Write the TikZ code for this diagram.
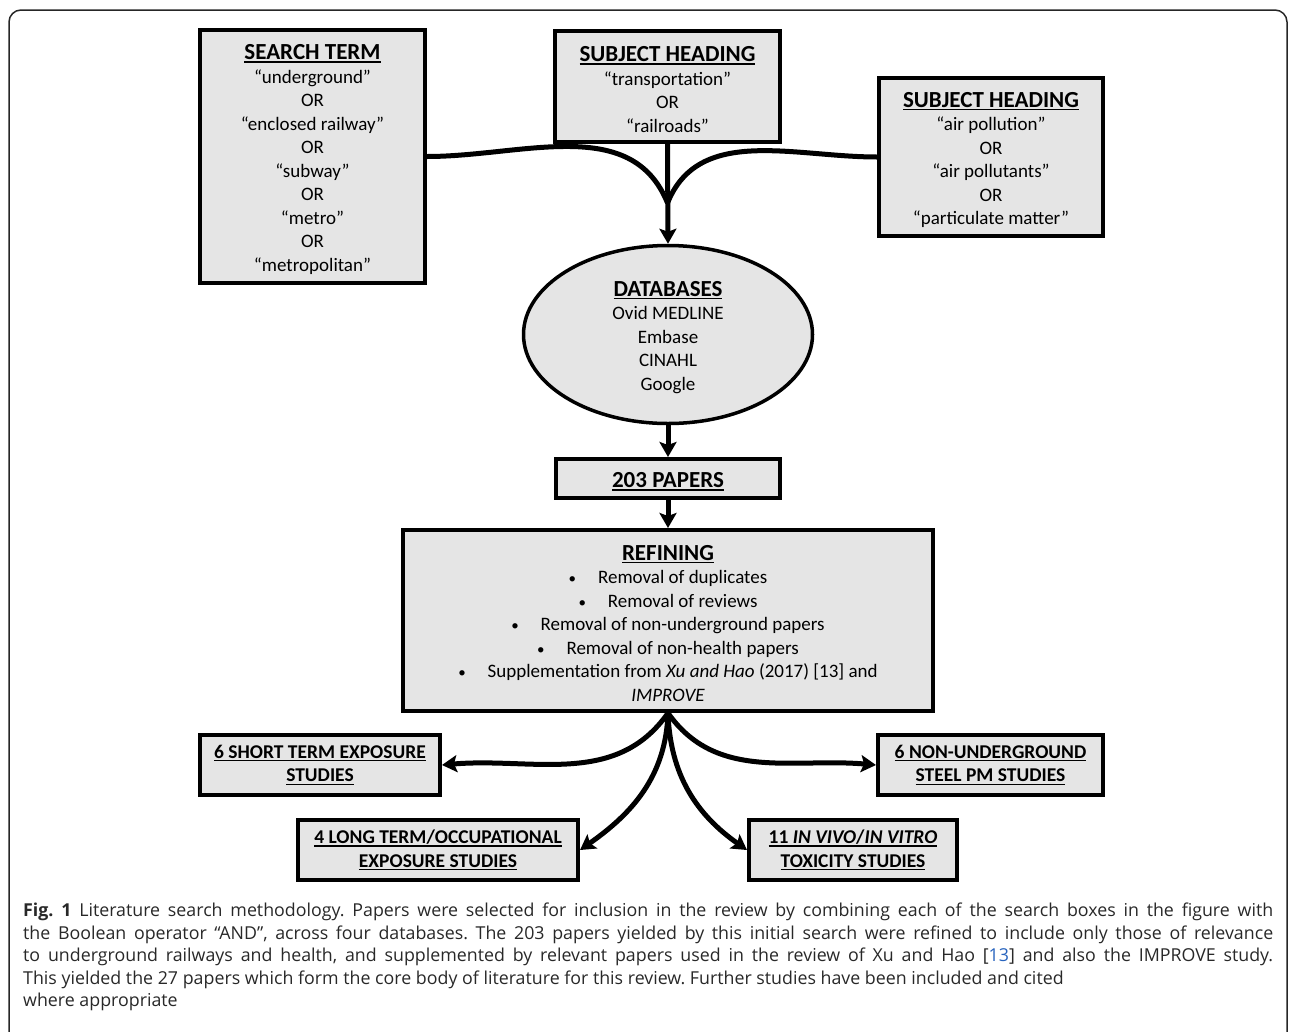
\documentclass[tikz,border=0pt]{standalone}
\usepackage{fontspec}
\setmainfont{Carlito}
\newfontfamily\capfont{Open Sans}
\usetikzlibrary{arrows.meta,shapes.geometric}
\definecolor{boxfill}{RGB}{229,229,229}
\definecolor{linkblue}{RGB}{40,100,190}
\definecolor{capcol}{RGB}{40,40,40}
\newcommand{\myul}[1]{\setbox0\hbox{#1}\rlap{\rule[-3pt]{\wd0}{1.3pt}}\box0}
\newcommand{\bodyfnt}{\fontsize{19}{23.5}\selectfont}
\newcommand{\hd}[1]{{\fontsize{23}{23.5}\selectfont\bfseries\rule{0pt}{21pt}\myul{#1}}}
\newcommand{\bt}[1]{{\bfseries\myul{#1}}}
\newcommand{\bul}{{\fontsize{15}{15}\selectfont\textbullet}\hspace{1.15em}}
\tikzset{
  box/.style={draw=black, line width=4pt, fill=boxfill, inner sep=0pt, align=center, font=\bodyfnt},
  conn/.style={line width=5pt, draw=black},
  arr/.style={conn, -{Stealth[length=15pt,width=17pt,inset=3pt]}},
}
\begin{document}
\begin{tikzpicture}[x=1pt,y=-1pt]
\useasboundingbox (0,0) rectangle (1290,1031);
% outer frame
\draw[line width=1.5pt, draw=black!85, rounded corners=12pt] (9,1050) -- (9,10) -- (1287,10) -- (1287,1050);

\node[box, minimum width=225pt, minimum height=253pt] (search) at (312.5,156.5)
  {\hd{SEARCH TERM}\\“underground”\\OR\\“enclosed railway”\\OR\\“subway”\\OR\\“metro”\\OR\\“metropolitan”};
\node[box, minimum width=225pt, minimum height=111pt] (subjA) at (667.5,86.5)
  {\hd{SUBJECT HEADING}\\“transportation”\\OR\\“railroads”};
\node[box, minimum width=224pt, minimum height=158pt] (subjB) at (991,157)
  {\hd{SUBJECT HEADING}\\“air pollution”\\OR\\“air pollutants”\\OR\\“particulate matter”};
\node[box, ellipse, line width=3.5pt, minimum width=289pt, minimum height=178pt] (db) at (668,334.5)
  {\hd{DATABASES}\\Ovid MEDLINE\\Embase\\CINAHL\\Google};
\node[box, minimum width=224pt, minimum height=39pt] (papers) at (668,478.5)
  {\hd{203 PAPERS}};
\node[box, minimum width=530pt, minimum height=181pt] (refine) at (668,620.5)
  {\hd{REFINING}\\
   \bul Removal of duplicates\\
   \bul Removal of reviews\\
   \bul Removal of non-underground papers\\
   \bul Removal of non-health papers\\
   \bul Supplementation from \textit{Xu and Hao} (2017) [13] and\\
   \textit{IMPROVE}};
\node[box, minimum width=240pt, minimum height=60pt, font=\fontsize{19.5}{23.5}\selectfont] (short) at (320,765)
  {\bt{6 SHORT TERM EXPOSURE}\\\bt{STUDIES}};
\node[box, minimum width=225pt, minimum height=60pt, font=\fontsize{19.5}{23.5}\selectfont] (nonund) at (990.5,765)
  {\bt{6 NON-UNDERGROUND}\\\bt{STEEL PM STUDIES}};
\node[box, minimum width=280pt, minimum height=60pt, font=\fontsize{19.5}{23.5}\selectfont] (long) at (438,850)
  {\bt{4 LONG TERM/OCCUPATIONAL}\\\bt{EXPOSURE STUDIES}};
\node[box, minimum width=208pt, minimum height=60pt, font=\fontsize{19.5}{23.5}\selectfont] (tox) at (853,850)
  {\bt{11 \textit{IN VIVO}/\textit{IN VITRO}}\\\bt{TOXICITY STUDIES}};

% connectors
\coordinate (J) at (667.5,203);
\draw[conn] (search.east) to[out=0,in=112] (J);
\draw[conn] (subjB.west) to[out=180,in=68] (J);
\draw[arr] (subjA.south) -- (db.north);
\draw[arr] (db.south) -- (papers.north);
\draw[arr] (papers.south) -- (refine.north);
\draw[arr] (refine.south) to[out=-125,in=5] (short.east);
\draw[arr] (refine.south) to[out=-55,in=175] (nonund.west);
\draw[arr] (refine.south) to[out=-92,in=35] (long.east);
\draw[arr] (refine.south) to[out=-88,in=145] (tox.west);

% caption
\node[anchor=north west, inner sep=0pt, text width=1250pt, align=justify, text=capcol,
      font=\capfont\fontsize{17.8}{22.5}\selectfont\frenchspacing] (cap) at (23,903)
  {\textbf{Fig.~1} Literature search methodology. Papers were selected for inclusion in the review by combining each of the search boxes in the figure with\linebreak
   the Boolean operator “AND”, across four databases. The 203 papers yielded by this initial search were refined to include only those of relevance\linebreak
   to underground railways and health, and supplemented by relevant papers used in the review of Xu and Hao [{\color{linkblue}13}] and also the IMPROVE study.\linebreak
   This yielded the 27 papers which form the core body of literature for this review. Further studies have been included and cited\newline
   where appropriate};
\end{tikzpicture}
\end{document}
